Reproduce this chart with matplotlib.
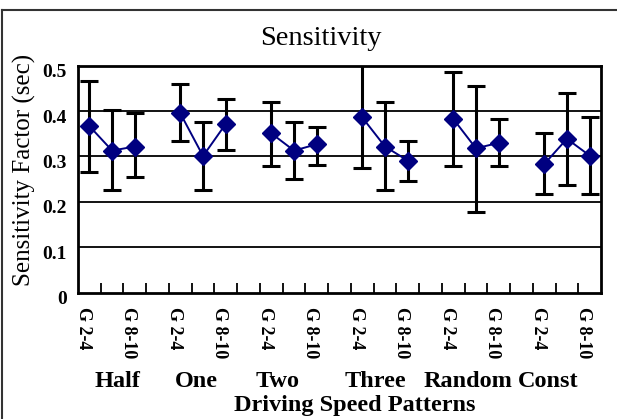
import numpy as np
import matplotlib
matplotlib.use("Agg")
import matplotlib.pyplot as plt
import matplotlib.transforms as mtransforms
from matplotlib.lines import Line2D

plt.rcParams["font.family"] = ["Liberation Serif", "DejaVu Serif"]

# Donnees
groups = ["Half", "One", "Two", "Three", "Random", "Const"]
sub_labels = ["G 2-4", "G 5-7", "G 8-10"]
mean_vals = [
    [0.367, 0.313, 0.322],
    [0.395, 0.301, 0.372],
    [0.351, 0.313, 0.327],
    [0.386, 0.322, 0.291],
    [0.383, 0.318, 0.330],
    [0.283, 0.339, 0.302],
]
upper_vals = [
    [0.466, 0.402, 0.396],
    [0.459, 0.377, 0.426],
    [0.421, 0.377, 0.366],
    [0.502, 0.419, 0.334],
    [0.487, 0.455, 0.382],
    [0.351, 0.439, 0.386],
]
lower_vals = [
    [0.265, 0.226, 0.254],
    [0.335, 0.226, 0.314],
    [0.279, 0.250, 0.281],
    [0.274, 0.226, 0.246],
    [0.279, 0.177, 0.279],
    [0.217, 0.237, 0.217],
]
y_ticks = [0, 0.1, 0.2, 0.3, 0.4, 0.5]
y_tick_labels = ["0", "0.1", "0.2", "0.3", "0.4", "0.5"]

# Categories (avec une case vide entre les groupes, comme dans Excel)
categories = []
for i, g in enumerate(groups):
    categories += sub_labels
    if i < len(groups) - 1:
        categories.append("")

W, H = 617, 419
fig = plt.figure(figsize=(W / 100, H / 100), dpi=100)
ax = fig.add_axes([78 / W, 1 - 292.7 / H, (601 - 78) / W, (292.7 - 65.7) / H])

navy = "#000080"
for i, g in enumerate(groups):
    x = np.arange(3) + 4 * i
    m = np.array(mean_vals[i])
    up = np.array(upper_vals[i]) - m
    lo = m - np.array(lower_vals[i])
    ax.errorbar(x, m, yerr=[lo, up], fmt="none", ecolor="black",
                elinewidth=2.2, capsize=6.5, capthick=2.2, zorder=3)
    ax.plot(x, m, color=navy, lw=1.4, marker="D", markersize=9,
            markerfacecolor=navy, markeredgecolor=navy, zorder=4)

# grille horizontale
for yv in y_ticks[1:-1]:
    ax.axhline(yv, color="black", lw=1.3, zorder=1)

ax.set_xlim(-0.5, len(categories) - 0.5)
ax.set_ylim(0, 0.5)
for s in ax.spines.values():
    s.set_linewidth(2)
    s.set_color("black")

ax.set_yticks(y_ticks)
ax.set_yticklabels(y_tick_labels, fontsize=14, fontweight="bold")
ax.tick_params(axis="y", length=0, pad=8)
offset = mtransforms.ScaledTranslation(0, -0.05, fig.dpi_scale_trans)
for lab in ax.get_yticklabels():
    lab.set_transform(lab.get_transform() + offset)

pos = np.arange(0, len(categories), 2)
ax.set_xticks(pos)
ax.set_xticklabels([categories[p] for p in pos], rotation=270,
                   fontsize=13, fontweight="bold", va="top", ha="center")
ax.set_xticks(np.arange(0.5, len(categories) - 1, 1), minor=True)
ax.tick_params(axis="x", which="major", length=0, pad=10)
ax.tick_params(axis="x", which="minor", direction="in", length=7,
               width=1.3, color="black")
xoff = mtransforms.ScaledTranslation(-0.06, 0, fig.dpi_scale_trans)
for lab in ax.get_xticklabels():
    lab.set_transform(lab.get_transform() + xoff)

# textes
fig.text(321 / W, 1 - 45 / H, "Sensitivity", fontsize=20.5,
         ha="center", va="baseline")
fig.text(24 / W, 1 - 170 / H, "Sensitivity Factor (sec)", fontsize=18,
         rotation=90, ha="center", va="center")
group_x = [117.5, 196.5, 277.5, 375, 467.5, 548.5]
for g, gx in zip(groups, group_x):
    fig.text(gx / W, 1 - 387 / H, g, fontsize=17.5, fontweight="bold",
             ha="center", va="baseline")
fig.text(355 / W, 1 - 411 / H, "Driving Speed Patterns", fontsize=17.5,
         fontweight="bold", ha="center", va="baseline")

# cadre exterieur
fig.add_artist(Line2D([2 / W, 1], [1 - 10 / H, 1 - 10 / H],
                      transform=fig.transFigure, color="#333333", lw=1.5))
fig.add_artist(Line2D([2 / W, 2 / W], [0, 1 - 10 / H],
                      transform=fig.transFigure, color="#333333", lw=1.5))

fig.savefig("out.png", dpi=100)
